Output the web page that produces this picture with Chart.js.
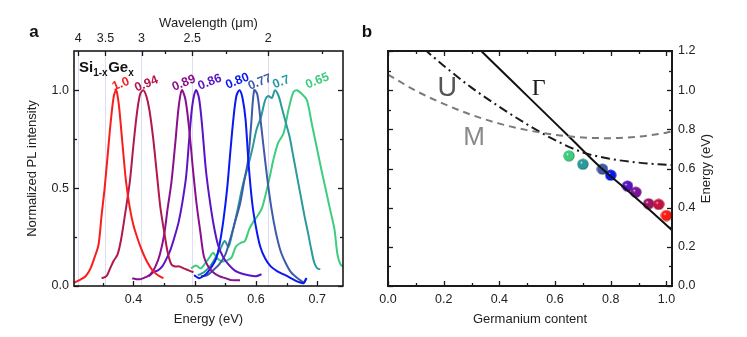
<!DOCTYPE html>
<html>
<head>
<meta charset="utf-8">
<script src="https://cdn.jsdelivr.net/npm/chart.js@4.4.1/dist/chart.umd.min.js"></script>
<style>
html, body { margin: 0; padding: 0; background: #fff; }
#wrap { position: relative; width: 747px; height: 337px; overflow: hidden; }
canvas { position: absolute; top: 0; }
#ca { left: 0; width: 355px; height: 337px; }
#cb { left: 355px; width: 392px; height: 337px; }
</style>
</head>
<body>
<div id="wrap">
  <canvas id="ca" width="355" height="337"></canvas>
  <canvas id="cb" width="392" height="337"></canvas>
</div>
<script>
// ---- panel a : PL spectra (energy eV / normalized intensity) ----
var compositions = ['1.0', '0.94', '0.89', '0.86', '0.80', '0.77', '0.7', '0.65'];

var e_100 = [0.302,0.312,0.322,0.330,0.337,0.343,0.348,0.353,0.358,0.363,0.368,0.372,0.376,0.380,0.384,0.388,0.394,0.400,0.407,0.414,0.422,0.431,0.440,0.449];
var pl_100 = [0.015,0.03,0.05,0.09,0.15,0.21,0.36,0.50,0.67,0.84,0.97,1.0,0.93,0.80,0.66,0.53,0.40,0.31,0.24,0.18,0.125,0.08,0.055,0.04];

var e_094 = [0.348,0.356,0.362,0.368,0.374,0.380,0.387,0.394,0.400,0.406,0.411,0.416,0.421,0.426,0.432,0.438,0.444,0.450,0.456,0.462,0.468,0.475,0.482,0.490,0.498];
var pl_094 = [0.04,0.05,0.09,0.13,0.16,0.24,0.38,0.53,0.72,0.89,0.98,1.0,0.97,0.90,0.76,0.58,0.40,0.28,0.17,0.11,0.10,0.10,0.09,0.08,0.07];

var e_089 = [0.398,0.405,0.412,0.420,0.428,0.436,0.443,0.450,0.456,0.462,0.468,0.474,0.479,0.485,0.491,0.497,0.503,0.509,0.515,0.522,0.530,0.540,0.550,0.560,0.574];
var pl_089 = [0.04,0.035,0.035,0.045,0.06,0.10,0.16,0.26,0.40,0.53,0.72,0.92,1.0,0.95,0.80,0.60,0.42,0.28,0.15,0.10,0.07,0.05,0.04,0.03,0.03];

var e_086 = [0.425,0.432,0.440,0.447,0.454,0.461,0.468,0.474,0.480,0.486,0.491,0.496,0.502,0.507,0.512,0.518,0.524,0.531,0.538,0.546,0.555,0.565,0.575,0.588,0.600,0.609];
var pl_086 = [0.05,0.07,0.08,0.10,0.14,0.19,0.26,0.33,0.43,0.56,0.75,0.92,1.0,0.96,0.82,0.60,0.45,0.31,0.21,0.15,0.11,0.08,0.065,0.055,0.05,0.06];

var e_080 = [0.499,0.507,0.514,0.521,0.528,0.535,0.541,0.547,0.553,0.558,0.563,0.568,0.573,0.578,0.583,0.588,0.594,0.600,0.607,0.615,0.624,0.635,0.648,0.660,0.670,0.678,0.682];
var pl_080 = [0.055,0.04,0.05,0.07,0.10,0.14,0.22,0.34,0.50,0.68,0.85,0.97,1.0,0.96,0.85,0.62,0.42,0.30,0.20,0.14,0.10,0.075,0.055,0.035,0.02,0.015,0.04];

var e_077 = [0.510,0.520,0.530,0.540,0.550,0.558,0.566,0.574,0.581,0.587,0.592,0.597,0.602,0.607,0.612,0.618,0.625,0.632,0.640,0.648,0.656,0.664,0.672,0.678,0.683];
var pl_077 = [0.05,0.055,0.08,0.11,0.16,0.24,0.33,0.42,0.54,0.64,0.82,1.0,0.98,0.86,0.72,0.56,0.40,0.28,0.18,0.12,0.075,0.05,0.03,0.02,0.04];

var e_070 = [0.505,0.515,0.525,0.535,0.542,0.549,0.555,0.562,0.570,0.578,0.586,0.594,0.601,0.608,0.615,0.620,0.626,0.631,0.637,0.643,0.649,0.655,0.661,0.667,0.673,0.679,0.685,0.690,0.695,0.700,0.705];
var pl_070 = [0.055,0.07,0.10,0.15,0.19,0.23,0.20,0.28,0.39,0.51,0.60,0.70,0.80,0.86,0.95,0.97,0.96,1.0,0.97,0.90,0.83,0.76,0.66,0.56,0.46,0.36,0.27,0.19,0.12,0.09,0.085];

var e_065 = [0.494,0.502,0.510,0.518,0.525,0.530,0.537,0.545,0.552,0.560,0.567,0.575,0.582,0.589,0.596,0.603,0.610,0.616,0.622,0.628,0.636,0.645,0.653,0.661,0.667,0.675,0.683,0.691,0.699,0.707,0.714,0.721,0.728,0.733,0.738,0.745];
var pl_065 = [0.09,0.105,0.09,0.12,0.15,0.17,0.14,0.125,0.13,0.145,0.20,0.22,0.23,0.29,0.33,0.36,0.40,0.47,0.55,0.64,0.73,0.78,0.90,0.99,1.0,0.98,0.95,0.83,0.71,0.59,0.49,0.39,0.29,0.16,0.11,0.095];

var energyTicks = [0.4, 0.5, 0.6, 0.7];
var energyMinor = [0.35, 0.45, 0.55, 0.65];
var plTicks = [0, 0.5, 1.0];
var plMinor = [0.25, 0.75];
var wlTicks = [4, 3.5, 3, 2.5, 2];
var wlMinor = [2.75, 2.25, 1.75];

// ---- panel b : energies vs Ge content ----
var geContent = [0.65, 0.70, 0.77, 0.80, 0.86, 0.89, 0.936, 0.972, 1.0];
var peakEnergy = [0.665, 0.622, 0.597, 0.566, 0.51, 0.479, 0.42, 0.417, 0.36];
var gammaX = [0.335, 0.45, 0.55, 0.65, 0.76, 0.85, 0.95, 1.02];
var gammaE = [1.2, 1.04, 0.902, 0.763, 0.61, 0.50, 0.375, 0.285];
var uX = [0.13, 0.2, 0.3, 0.4, 0.5, 0.6, 0.7, 0.8, 0.9, 1.0, 1.02];
var uE = [1.21, 1.125, 1.013, 0.915, 0.825, 0.745, 0.682, 0.649, 0.63, 0.619, 0.617];
var mX = [0, 0.1, 0.2, 0.3, 0.4, 0.5, 0.6, 0.7, 0.8, 0.9, 1.0, 1.02];
var mE = [1.08, 0.997, 0.93, 0.874, 0.829, 0.796, 0.772, 0.758, 0.755, 0.763, 0.783, 0.79];
var geTicks = [0, 0.2, 0.4, 0.6, 0.8, 1.0];
var geMinor = [0.1, 0.3, 0.5, 0.7, 0.9];
var enTicks = [0, 0.2, 0.4, 0.6, 0.8, 1.0, 1.2];
var enMinor = [0.1, 0.3, 0.5, 0.7, 0.9, 1.1];

// ---- styling ----
var HC = 1.2398;
var FONT = "'Liberation Sans', Arial, Helvetica, sans-serif";
var specColors = ['#fb1c1c', '#b3174f', '#8a0f8e', '#5a14c6', '#0a18f2', '#3d5ba8', '#2b9a9c', '#3ecd7e'];
var dotColors = ['#3ecd7e', '#2b9a9c', '#3d5ba8', '#0a18f2', '#5a14c6', '#7a1498', '#9c1565', '#c8123e', '#ff1a10'];
var labE = [0.3795, 0.4211, 0.4823, 0.5247, 0.5696, 0.6064, 0.6414, 0.7002];
var labI = [1.031, 1.031, 1.036, 1.041, 1.046, 1.041, 1.041, 1.047];

Chart.defaults.font.family = FONT;
Chart.defaults.color = '#222';

function pts(xs, ys) {
  return xs.map(function (x, i) { return {x: x, y: ys[i]}; });
}

function shade(hex, k) {
  var n = parseInt(hex.slice(1), 16);
  var r = Math.round(((n >> 16) & 255) * k), g = Math.round(((n >> 8) & 255) * k), b = Math.round((n & 255) * k);
  return 'rgb(' + r + ',' + g + ',' + b + ')';
}

function sphere(col) {
  var c = document.createElement('canvas');
  c.width = 12; c.height = 12;
  var g = c.getContext('2d');
  var gr = g.createRadialGradient(4.2, 4.2, 0.2, 6, 6, 6);
  gr.addColorStop(0, '#ffffff');
  gr.addColorStop(0.2, col);
  gr.addColorStop(0.75, col);
  gr.addColorStop(1, shade(col, 0.55));
  g.fillStyle = gr;
  g.beginPath(); g.arc(6, 6, 5.6, 0, Math.PI * 2); g.fill();
  return c;
}

// frame + inward tick marks, drawn through the chart's own scales
function makeFrame(marks, lw, extra) {
  return {
    id: 'frame',
    afterDatasetsDraw: function (chart) {
      var ctx = chart.ctx, a = chart.chartArea;
      ctx.save();
      ctx.strokeStyle = '#1a1a1a';
      ctx.lineWidth = lw;
      ctx.strokeRect(a.left, a.top, a.right - a.left, a.bottom - a.top);
      ctx.lineWidth = 1.3;
      marks.forEach(function (m) {
        var sc = chart.scales[m.scale];
        m.values.forEach(function (v) {
          var p = Math.round(sc.getPixelForValue(v)) + 0.5;
          ctx.beginPath();
          if (m.side === 'bottom') { ctx.moveTo(p, a.bottom); ctx.lineTo(p, a.bottom - m.len); }
          else if (m.side === 'top') { ctx.moveTo(p, a.top); ctx.lineTo(p, a.top + m.len); }
          else if (m.side === 'left') { ctx.moveTo(a.left, p); ctx.lineTo(a.left + m.len, p); }
          else { ctx.moveTo(a.right, p); ctx.lineTo(a.right - m.len, p); }
          ctx.stroke();
        });
      });
      extra(chart, ctx);
      ctx.restore();
    }
  };
}

var series = [[e_100, pl_100], [e_094, pl_094], [e_089, pl_089], [e_086, pl_086],
              [e_080, pl_080], [e_077, pl_077], [e_070, pl_070], [e_065, pl_065]];

var dsA = series.map(function (s, i) {
  return {
    data: pts(s[0], s[1]), showLine: true, borderColor: specColors[i], borderWidth: 2,
    pointRadius: 0, tension: 0.3, fill: false
  };
});

var E_MIN = 0.303, E_MAX = 0.742;

var chartA = new Chart(document.getElementById('ca'), {
  type: 'scatter',
  data: { datasets: dsA },
  options: {
    responsive: false, animation: false, devicePixelRatio: 1,
    layout: { padding: { left: 0, right: 12, top: 0, bottom: 0 } },
    plugins: { legend: { display: false }, tooltip: { enabled: false } },
    scales: {
      x: {
        type: 'linear', position: 'bottom', min: E_MIN, max: E_MAX,
        afterBuildTicks: function (s) { s.ticks = energyTicks.map(function (v) { return {value: v}; }); },
        ticks: { callback: function (v) { return v.toFixed(1); }, padding: 6, font: { size: 12.5 }, maxRotation: 0, autoSkip: false },
        grid: { display: false, drawTicks: false }, border: { display: false },
        title: { display: true, text: 'Energy (eV)', font: { size: 13 }, padding: { top: 0, bottom: 10 } },
        afterFit: function (s) { s.height = 51; }
      },
      x2: {
        type: 'linear', position: 'top', min: E_MIN, max: E_MAX,
        afterBuildTicks: function (s) { s.ticks = wlTicks.map(function (w) { return {value: HC / w}; }); },
        ticks: { callback: function (v, i) { return String(wlTicks[i]); }, padding: 5, font: { size: 12.5 }, maxRotation: 0, autoSkip: false },
        grid: { display: true, drawOnChartArea: true, drawTicks: false, color: '#dcdcf2', lineWidth: 1 },
        border: { display: false },
        title: { display: true, text: 'Wavelength (μm)', font: { size: 13 }, padding: { top: 16, bottom: 0 } },
        afterFit: function (s) { s.height = 51; }
      },
      y: {
        type: 'linear', position: 'left', min: 0, max: 1.2,
        afterBuildTicks: function (s) { s.ticks = plTicks.map(function (v) { return {value: v}; }); },
        ticks: { callback: function (v) { return v.toFixed(1); }, padding: 5, font: { size: 12.5 } },
        grid: { display: false, drawTicks: false }, border: { display: false },
        title: { display: true, text: 'Normalized PL intensity', font: { size: 13 }, padding: { top: 25, bottom: 0 } },
        afterFit: function (s) { s.width = 74; }
      }
    }
  },
  plugins: [makeFrame([
    { scale: 'x', side: 'bottom', values: energyTicks, len: 5 },
    { scale: 'x', side: 'bottom', values: energyMinor, len: 3 },
    { scale: 'x', side: 'top', values: wlTicks.map(function (w) { return HC / w; }), len: 5 },
    { scale: 'x', side: 'top', values: wlMinor.map(function (w) { return HC / w; }), len: 3 },
    { scale: 'y', side: 'left', values: plTicks, len: 5 },
    { scale: 'y', side: 'left', values: plMinor, len: 3 },
    { scale: 'y', side: 'right', values: plTicks, len: 5 },
    { scale: 'y', side: 'right', values: plMinor, len: 3 }
  ], 1.6, function (chart, ctx) {
    var sx = chart.scales.x, sy = chart.scales.y;
    // panel letter
    ctx.fillStyle = '#111';
    ctx.font = 'bold 17px ' + FONT;
    ctx.textAlign = 'center'; ctx.textBaseline = 'alphabetic';
    ctx.fillText('a', 34, 37);
    // Si1-xGex
    var x = 79, y = 72;
    ctx.textAlign = 'left';
    ctx.font = 'bold 15px ' + FONT; ctx.fillText('Si', x, y); x += ctx.measureText('Si').width;
    ctx.font = 'bold 10px ' + FONT; ctx.fillText('1-x', x, y + 4); x += ctx.measureText('1-x').width + 0.5;
    ctx.font = 'bold 15px ' + FONT; ctx.fillText('Ge', x, y); x += ctx.measureText('Ge').width;
    ctx.font = 'bold 10px ' + FONT; ctx.fillText('x', x, y + 4);
    // composition labels above the peaks
    ctx.font = 'bold 12.5px ' + FONT;
    ctx.textAlign = 'center'; ctx.textBaseline = 'middle';
    compositions.forEach(function (c, i) {
      ctx.save();
      ctx.translate(sx.getPixelForValue(labE[i]), sy.getPixelForValue(labI[i]));
      ctx.rotate(-22 * Math.PI / 180);
      ctx.fillStyle = specColors[i];
      ctx.fillText(c, 0, 0);
      ctx.restore();
    });
  })]
});

var spheres = dotColors.map(function (c) { return sphere(c); });

var chartB = new Chart(document.getElementById('cb'), {
  type: 'scatter',
  data: {
    datasets: [
      { data: pts(mX, mE), showLine: true, borderColor: '#7a7a7a', borderWidth: 2, borderDash: [7, 5], pointRadius: 0, tension: 0.4, cubicInterpolationMode: 'monotone' },
      { data: pts(uX, uE), showLine: true, borderColor: '#1a1a1a', borderWidth: 2, borderDash: [9, 4, 2, 4], pointRadius: 0, tension: 0.4, cubicInterpolationMode: 'monotone' },
      { data: pts(gammaX, gammaE), showLine: true, borderColor: '#111', borderWidth: 2, pointRadius: 0, tension: 0.3, cubicInterpolationMode: 'monotone' },
      { data: pts(geContent, peakEnergy), showLine: false, pointRadius: 5,
        pointStyle: function (ctx) { return spheres[ctx.dataIndex]; } }
    ]
  },
  options: {
    responsive: false, animation: false, devicePixelRatio: 1,
    layout: { padding: { left: 33, right: 0, top: 51, bottom: 0 } },
    plugins: { legend: { display: false }, tooltip: { enabled: false } },
    scales: {
      x: {
        type: 'linear', position: 'bottom', min: 0, max: 1.02,
        afterBuildTicks: function (s) { s.ticks = geTicks.map(function (v) { return {value: v}; }); },
        ticks: { callback: function (v) { return v.toFixed(1); }, padding: 6, font: { size: 12.5 }, maxRotation: 0, autoSkip: false },
        grid: { display: false, drawTicks: false }, border: { display: false },
        title: { display: true, text: 'Germanium content', font: { size: 13 }, padding: { top: 0, bottom: 10 } },
        afterFit: function (s) { s.height = 51; }
      },
      y: {
        type: 'linear', position: 'right', min: 0, max: 1.2,
        afterBuildTicks: function (s) { s.ticks = enTicks.map(function (v) { return {value: v}; }); },
        ticks: { callback: function (v) { return v.toFixed(1); }, padding: 6, font: { size: 12.5 } },
        grid: { display: false, drawTicks: false }, border: { display: false },
        title: { display: false },
        afterFit: function (s) { s.width = 75; }
      }
    }
  },
  plugins: [makeFrame([
    { scale: 'x', side: 'bottom', values: geTicks, len: 5 },
    { scale: 'x', side: 'bottom', values: geMinor, len: 3 },
    { scale: 'x', side: 'top', values: geTicks, len: 5 },
    { scale: 'x', side: 'top', values: geMinor, len: 3 },
    { scale: 'y', side: 'left', values: enTicks, len: 5 },
    { scale: 'y', side: 'left', values: enMinor, len: 3 },
    { scale: 'y', side: 'right', values: enTicks, len: 5 },
    { scale: 'y', side: 'right', values: enMinor, len: 3 }
  ], 2, function (chart, ctx) {
    var sx = chart.scales.x, sy = chart.scales.y, a = chart.chartArea;
    ctx.fillStyle = '#111';
    ctx.font = 'bold 17px ' + FONT;
    ctx.textAlign = 'center'; ctx.textBaseline = 'alphabetic';
    ctx.fillText('b', 12, 37);
    ctx.textBaseline = 'middle';
    ctx.font = '27px ' + FONT;
    ctx.fillStyle = '#555';
    ctx.fillText('U', sx.getPixelForValue(0.213), sy.getPixelForValue(1.01));
    ctx.font = '26px ' + FONT;
    ctx.fillStyle = '#8a8a8a';
    ctx.fillText('M', sx.getPixelForValue(0.309), sy.getPixelForValue(0.757));
    ctx.font = '24px "Liberation Serif", "DejaVu Serif", serif';
    ctx.fillStyle = '#1a1a1a';
    ctx.fillText('Γ', sx.getPixelForValue(0.541), sy.getPixelForValue(1.007));
    // right-hand axis title, reading upwards
    ctx.save();
    ctx.translate(chart.width - 41, (a.top + a.bottom) / 2);
    ctx.rotate(-Math.PI / 2);
    ctx.font = '13px ' + FONT;
    ctx.fillStyle = '#222';
    ctx.fillText('Energy (eV)', 0, 0);
    ctx.restore();
  })]
});
</script>
</body>
</html>
